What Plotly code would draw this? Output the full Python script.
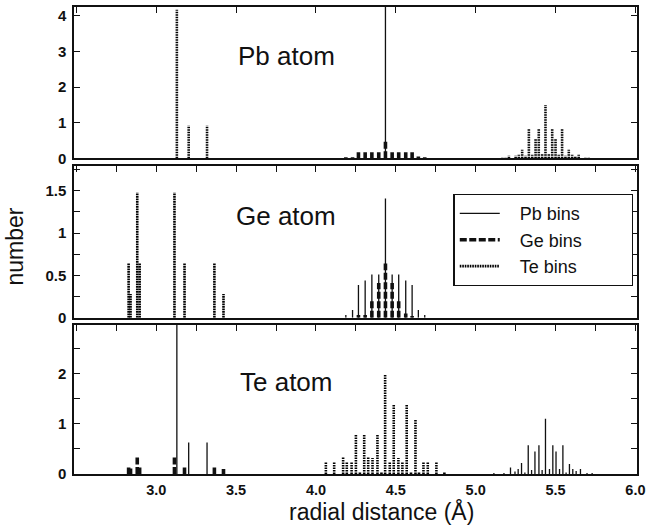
import plotly.graph_objects as go

# ---------------- data (radial distance in Angstrom, number) ----------------
# Pb atom panel
pb_te_x = [3.129, 3.203, 3.318, 5.167, 5.187, 5.208, 5.25, 5.27, 5.291, 5.312, 5.333, 5.354,
           5.375, 5.395, 5.416, 5.437, 5.458, 5.479, 5.5, 5.52, 5.541, 5.562, 5.583, 5.604,
           5.624, 5.645, 5.687, 5.708]
pb_te_y = [4.17, 0.92, 0.92, 0.02, 0.02, 0.08, 0.08, 0.1, 0.24, 0.08, 0.82, 0.1,
           0.54, 0.82, 0.12, 1.5, 0.12, 0.82, 0.54, 0.1, 0.82, 0.08, 0.24, 0.1,
           0.06, 0.1, 0.02, 0.02]
pb_ge_x = [4.187, 4.229, 4.266, 4.308, 4.35, 4.393, 4.435, 4.477, 4.518, 4.562, 4.602, 4.641, 4.681]
pb_ge_y = [0.03, 0.03, 0.17, 0.17, 0.17, 0.17, 0.48, 0.17, 0.17, 0.17, 0.17, 0.05, 0.03]
pb_pb_x = [4.435]
pb_pb_y = [4.6]

# Ge atom panel
ge_te_x = [2.827, 2.839, 2.881, 2.896, 3.114, 3.177, 3.364, 3.421]
ge_te_y = [0.64, 0.28, 1.48, 0.64, 1.48, 0.64, 0.64, 0.28]
ge_pb_x = [4.187, 4.229, 4.266, 4.308, 4.35, 4.393, 4.435, 4.477, 4.518, 4.562, 4.602, 4.641, 4.681]
ge_pb_y = [0.03, 0.09, 0.385, 0.44, 0.51, 0.51, 1.41, 0.51, 0.51, 0.44, 0.385, 0.09, 0.03]
ge_ge_x = [4.266, 4.308, 4.35, 4.393, 4.435, 4.477, 4.518, 4.562, 4.602]
ge_ge_y = [0.03, 0.03, 0.22, 0.41, 0.64, 0.41, 0.22, 0.05, 0.02]

# Te atom panel
te_ge_x = [2.827, 2.839, 2.881, 2.896, 3.114, 3.177, 3.364, 3.421]
te_ge_y = [0.13, 0.11, 0.36, 0.13, 0.36, 0.13, 0.13, 0.1]
te_pb_x = [3.129, 3.203, 3.318, 5.114, 5.177, 5.218, 5.246, 5.266, 5.287, 5.308, 5.329, 5.35,
           5.371, 5.396, 5.416, 5.437, 5.462, 5.483, 5.503, 5.525, 5.546, 5.566, 5.587, 5.608,
           5.629, 5.656, 5.697, 5.729]
te_pb_y = [3.2, 0.63, 0.63, 0.02, 0.02, 0.13, 0.05, 0.1, 0.22, 0.03, 0.575, 0.08,
           0.45, 0.575, 0.08, 1.1, 0.1, 0.575, 0.45, 0.1, 0.575, 0.03, 0.2, 0.1,
           0.06, 0.1, 0.02, 0.02]
te_te_x = [4.062, 4.114, 4.17, 4.193, 4.223, 4.25, 4.275, 4.302, 4.327, 4.354, 4.385, 4.41,
           4.433, 4.462, 4.487, 4.516, 4.541, 4.568, 4.595, 4.623, 4.645, 4.673, 4.7, 4.754, 4.804]
te_te_y = [0.24, 0.24, 0.35, 0.24, 0.24, 0.8, 0.03, 0.8, 0.35, 0.32, 0.8, 0.03,
           1.99, 0.24, 1.375, 0.32, 0.24, 1.375, 0.05, 1.08, 0.03, 0.24, 0.24, 0.24, 0.03]

panel_names = ["Pb atom", "Ge atom", "Te atom"]
series_names = ["Pb bins", "Ge bins", "Te bins"]
x_ticks = [3.0, 3.5, 4.0, 4.5, 5.0, 5.5, 6.0]
x_ticktext = ["3.0", "3.5", "4.0", "4.5", "5.0", "5.5", "6.0"]
y1_ticks = [0, 1, 2, 3, 4]
y1_text = ["0", "1", "2", "3", "4"]
y2_ticks = [0, 0.25, 0.5, 0.75, 1.0, 1.25, 1.5, 1.75]
y2_text = ["0", "", "0.5", "", "1", "", "1.5", ""]
y3_ticks = [0, 0.5, 1.0, 1.5, 2.0, 2.5]
y3_text = ["0", "", "1", "", "2", ""]

# ---------------- styling ----------------
FONT = "Liberation Sans, Arial, sans-serif"
INK = "#111111"
XR = [2.485, 6.01]
styles = {
    "Pb bins": dict(color=INK, width=1.3, dash="solid"),
    "Ge bins": dict(color=INK, width=3.6, dash="7px,2.5px"),
    "Te bins": dict(color="#000000", width=2.6, dash="1.6px,0.9px"),
}
NB = "\u00a0"


def stems(xs, hs):
    x, y = [], []
    for a, h in zip(xs, hs):
        x += [a, a, None]
        y += [0, h, None]
    return x, y


fig = go.Figure()

panels = [
    ("x", "y", [("Pb bins", pb_pb_x, pb_pb_y), ("Ge bins", pb_ge_x, pb_ge_y), ("Te bins", pb_te_x, pb_te_y)]),
    ("x2", "y2", [("Pb bins", ge_pb_x, ge_pb_y), ("Ge bins", ge_ge_x, ge_ge_y), ("Te bins", ge_te_x, ge_te_y)]),
    ("x3", "y3", [("Pb bins", te_pb_x, te_pb_y), ("Ge bins", te_ge_x, te_ge_y), ("Te bins", te_te_x, te_te_y)]),
]

for pi, (xa, ya, series) in enumerate(panels):
    for name, xs, hs in series:
        sx, sy = stems(xs, hs)
        fig.add_trace(go.Scatter(
            x=sx, y=sy, mode="lines", name=NB * 3 + name + NB * 9, legendgroup=name,
            showlegend=(pi == 1), line=styles[name], xaxis=xa, yaxis=ya,
            hoverinfo="skip", connectgaps=False, cliponaxis=True,
        ))

# empty traces so that the top tick axes are drawn
for xa, ya in [("x4", "y"), ("x5", "y2"), ("x6", "y3")]:
    fig.add_trace(go.Scatter(x=[None], y=[None], mode="lines", showlegend=False,
                             xaxis=xa, yaxis=ya, hoverinfo="skip"))

doms = [[0.6759, 1.0], [0.3348, 0.6588], [0.0, 0.3198]]
yranges = [[0, 4.25], [0, 1.79], [0, 2.98]]
yticks = [(y1_ticks, y1_text), (y2_ticks, y2_text), (y3_ticks, y3_text)]

axis_common = dict(showgrid=False, zeroline=False, showline=True, linecolor=INK,
                   linewidth=1.5)
tickfont = dict(family=FONT, size=15, color=INK, weight="bold")
xtickfont = dict(family=FONT, size=14.5, color=INK, weight="bold")

layout = dict(
    width=650, height=529,
    margin=dict(l=74, r=12, t=5, b=55),
    paper_bgcolor="white", plot_bgcolor="white",
    font=dict(family=FONT, color=INK),
    showlegend=True,
    legend=dict(x=0.674, y=0.60, xanchor="left", yanchor="top",
                bgcolor="white", bordercolor=INK, borderwidth=1.3,
                font=dict(family=FONT, size=18, color=INK),
                tracegroupgap=0, itemwidth=40),
)

for i in range(3):
    suf = "" if i == 0 else str(i + 1)
    ya = "y" + suf
    layout["xaxis" + suf] = dict(
        axis_common, domain=[0, 1], anchor=ya, range=XR, mirror=True, ticks="",
        showticklabels=(i == 2), tickvals=x_ticks, ticktext=x_ticktext,
        tickfont=xtickfont, ticklabelstandoff=2,
    )
    layout["yaxis" + suf] = dict(
        axis_common, domain=doms[i], anchor="x" + suf, range=yranges[i],
        mirror="ticks", ticks="inside", ticklen=6, tickwidth=1.3, tickcolor=INK,
        tickvals=yticks[i][0], ticktext=yticks[i][1], tickfont=tickfont,
        ticklabelstandoff=3,
    )

top_tick_sets = [
    [2.5, 3.0, 3.5, 4.0, 4.5, 5.0, 5.5, 6.0],
    [2.5, 2.75, 3.0, 3.25, 3.5, 3.75, 4.0, 4.25, 4.5, 4.75, 5.0, 5.25, 5.5, 5.75, 6.0],
    [2.5, 2.75, 3.0, 3.25, 3.5, 3.75, 4.0, 4.25, 4.5, 4.75, 5.0, 5.25, 5.5, 5.75, 6.0],
]
for i, (num, base, ya) in enumerate([(4, "x", "y"), (5, "x2", "y2"), (6, "x3", "y3")]):
    layout["xaxis%d" % num] = dict(
        overlaying=base, anchor=ya, side="top", range=XR, showgrid=False,
        zeroline=False, showline=False, ticks="inside", ticklen=6, tickwidth=1.3,
        tickcolor=INK, tickvals=top_tick_sets[i], showticklabels=False,
    )

annotations = []
for name, ypos in zip(panel_names, [0.8955, 0.552, 0.196]):
    annotations.append(dict(text=name, xref="paper", yref="paper", x=0.377, y=ypos,
                            xanchor="center", yanchor="middle", showarrow=False,
                            font=dict(family=FONT, size=26, color=INK)))
annotations.append(dict(text="number", xref="paper", yref="paper", x=-0.104, y=0.488,
                        textangle=-90, xanchor="center", yanchor="middle", showarrow=False,
                        font=dict(family=FONT, size=23, color=INK)))
annotations.append(dict(text="radial distance (Å)", xref="paper", yref="paper", x=0.546,
                        y=-0.080, xanchor="center", yanchor="middle", showarrow=False,
                        font=dict(family=FONT, size=23, color=INK)))
layout["annotations"] = annotations

fig.update_layout(layout)
fig.write_html("out.html", config={"displayModeBar": False},
               post_script="document.body.style.margin='0px';")
